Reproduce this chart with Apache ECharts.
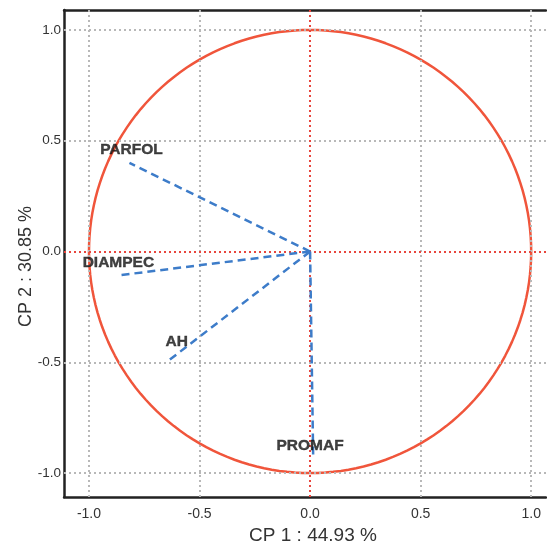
<!DOCTYPE html>
<html><head><meta charset="utf-8">
<script src="https://cdn.jsdelivr.net/npm/echarts@6/dist/echarts.min.js"></script>
<style>html,body{margin:0;padding:0;background:#fff}#c{width:547px;height:546px}</style>
</head><body><div id="c"></div>
<script>
const variables = ['PARFOL', 'DIAMPEC', 'AH', 'PROMAF'];
const loadX = [-0.817, -0.853, -0.637, 0.014];
const loadY = [0.400, -0.106, -0.490, -0.928];
const labelX = [-0.808, -0.867, -0.603, 0.0];
const labelY = [0.458, -0.052, -0.409, -0.878];
const tickValues = [-1.0, -0.5, 0.0, 0.5, 1.0];
const xName = 'CP 1 : 44.93 %';
const yName = 'CP 2 : 30.85 %';

const circle = [];
for (let i = 0; i <= 360; i += 2) {
  const a = i * Math.PI / 180;
  circle.push([Math.cos(a), Math.sin(a)]);
}
const FONT = "'Liberation Sans', Arial, sans-serif";
const gridStyle = { color: '#b8b8b8', width: 2, type: [2, 3] };
const redStyle = { color: '#e8453c', width: 2, type: [2, 3] };

const series = [];
series.push({
  type: 'line', data: [], silent: true, z: 1,
  markLine: {
    silent: true, symbol: 'none', label: { show: false }, animation: false,
    lineStyle: gridStyle,
    data: tickValues.map(v => ({ xAxis: v })).concat(tickValues.map(v => ({ yAxis: v })))
  }
});
series.push({
  type: 'line', data: circle, showSymbol: false, symbol: 'none', z: 3,
  lineStyle: { color: '#f0553b', width: 2.5 }, animation: false
});
series.push({
  type: 'line', data: [], silent: true, z: 4,
  markLine: {
    silent: true, symbol: 'none', label: { show: false }, animation: false,
    lineStyle: redStyle,
    data: [{ xAxis: 0 }, { yAxis: 0 }]
  }
});
variables.forEach((v, i) => {
  series.push({
    type: 'line', data: [[0, 0], [loadX[i], loadY[i]]], showSymbol: false, symbol: 'none', z: 5,
    lineStyle: { color: '#3d7cc9', width: 2.5, type: [8, 5] }, animation: false
  });
});
series.push({
  type: 'scatter', symbolSize: 0, z: 6, animation: false,
  data: variables.map((v, i) => ({ value: [labelX[i], labelY[i]], name: v })),
  label: {
    show: true, position: 'inside', formatter: p => p.name,
    fontFamily: FONT, fontWeight: 'bold', fontSize: 15.5, color: '#111',
    textBorderColor: '#111', textBorderWidth: 0.4
  }
});

const chart = echarts.init(document.getElementById('c'));
chart.setOption({
  animation: false,
  grid: { left: 64, top: 10, right: 1, bottom: 49, containLabel: false, outerBoundsMode: 'none' },
  xAxis: [{
    type: 'value', min: -1.113, max: 1.067, position: 'bottom',
    axisLine: { show: true, onZero: false, lineStyle: { color: '#222', width: 2.5 } },
    axisTick: { show: false, customValues: tickValues },
    splitLine: { show: false },
    axisLabel: { customValues: tickValues, formatter: v => v.toFixed(1), color: '#333', fontSize: 14, fontFamily: FONT, margin: 10 },
    name: xName, nameLocation: 'middle', nameGap: 29, nameMoveOverlap: false,
    nameTextStyle: { fontSize: 19, color: '#333', fontFamily: FONT, padding: [0, 0, 0, 16] }
  }, {
    type: 'value', min: -1.113, max: 1.067, position: 'top',
    axisLine: { show: true, onZero: false, lineStyle: { color: '#222', width: 2.5 } },
    axisTick: { show: false }, axisLabel: { show: false }, splitLine: { show: false }
  }],
  yAxis: {
    type: 'value', min: -1.108, max: 1.09,
    axisLine: { show: true, onZero: false, lineStyle: { color: '#222', width: 2.5 } },
    axisTick: { show: false, customValues: tickValues },
    splitLine: { show: false },
    axisLabel: { customValues: tickValues, formatter: v => v.toFixed(1), color: '#333', fontSize: 13.5, fontFamily: FONT, margin: 3 },
    name: yName, nameLocation: 'middle', nameGap: 29, nameMoveOverlap: false,
    nameTextStyle: { fontSize: 18, color: '#333', fontFamily: FONT, padding: [0, 26, 0, 0] }
  },
  series: series
});
</script></body></html>
